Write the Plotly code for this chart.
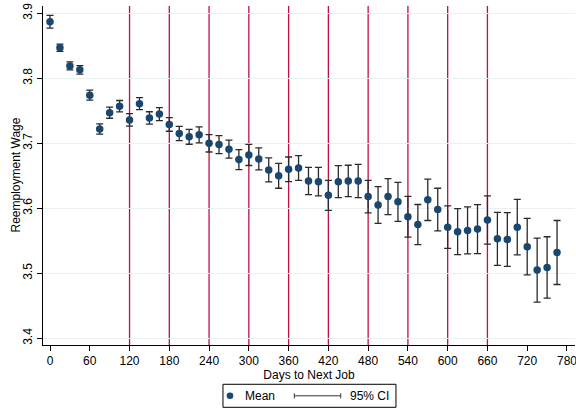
import plotly.graph_objects as go

days = list(range(0, 766, 15))
mean_wage = [3.887, 3.847, 3.819, 3.813, 3.774, 3.722, 3.747, 3.757, 3.736, 3.761,
             3.739, 3.745, 3.729, 3.715, 3.710, 3.713, 3.700, 3.698, 3.691, 3.675,
             3.682, 3.676, 3.659, 3.650, 3.660, 3.662, 3.642, 3.641, 3.620, 3.641,
             3.642, 3.642, 3.618, 3.605, 3.618, 3.610, 3.587, 3.575, 3.613, 3.598,
             3.571, 3.564, 3.566, 3.568, 3.582, 3.553, 3.552, 3.571, 3.541, 3.505,
             3.509, 3.532]
ci_half = [0.0097, 0.0057, 0.0062, 0.0066, 0.0077, 0.0080, 0.0085, 0.0088, 0.0097, 0.0092,
           0.0095, 0.0100, 0.0105, 0.0110, 0.0115, 0.0123, 0.0134, 0.0138, 0.0138, 0.0154,
           0.0162, 0.0169, 0.0185, 0.0192, 0.0189, 0.0189, 0.0211, 0.0220, 0.0231, 0.0246,
           0.0242, 0.0257, 0.0251, 0.0282, 0.0277, 0.0300, 0.0312, 0.0308, 0.0318, 0.0328,
           0.0326, 0.0354, 0.0362, 0.0377, 0.0372, 0.0408, 0.0412, 0.0428, 0.0435, 0.0492,
           0.0472, 0.0492]
vlines = [120, 180, 240, 300, 360, 420, 480, 540, 600, 660]
x_ticks = list(range(0, 781, 60))
y_ticks = [3.4, 3.5, 3.6, 3.7, 3.8, 3.9]

navy = "#1a476f"
vcolor = "#c0103f"
font = "Liberation Sans, Arial, sans-serif"

fig = go.Figure()
fig.add_trace(go.Scatter(
    x=days, y=mean_wage, mode="markers", name="Mean",
    marker=dict(color=navy, size=7.5, line=dict(width=0)),
    error_y=dict(type="data", array=ci_half, symmetric=True,
                 color="#2a2a2a", thickness=1.3, width=3.5),
    showlegend=False,
))

shapes = []
for v in vlines:
    shapes.append(dict(type="line", xref="x", yref="paper", x0=v, x1=v, y0=0, y1=1,
                       line=dict(color=vcolor, width=1.3), layer="below"))

# manual legend (box, marker symbol, capped line)
ly = -0.1499
shapes.append(dict(type="rect", xref="paper", yref="paper", x0=0.3383, x1=0.6635,
                   y0=-0.1838, y1=-0.1159,
                   line=dict(color="#000000", width=1), fillcolor="white"))
shapes.append(dict(type="line", xref="paper", yref="paper", x0=0.4724, x1=0.5596,
                   y0=ly, y1=ly, line=dict(color="#333333", width=1)))
for cx in (0.4724, 0.5596):
    shapes.append(dict(type="line", xref="paper", yref="paper", x0=cx, x1=cx,
                       y0=ly + 0.0075, y1=ly - 0.0075, line=dict(color="#333333", width=1)))
shapes.append(dict(type="circle", xref="paper", yref="paper",
                   x0=0.3515 - 0.0062, x1=0.3515 + 0.0062, y0=ly + 0.0097, y1=ly - 0.0097,
                   fillcolor=navy, line=dict(width=0)))

annotations = [
    dict(xref="paper", yref="paper", x=0.3750, y=ly, text="Mean", showarrow=False,
         xanchor="left", yanchor="middle", font=dict(family=font, size=12, color="#000")),
    dict(xref="paper", yref="paper", x=0.5740, y=ly, text="95% CI", showarrow=False,
         xanchor="left", yanchor="middle", font=dict(family=font, size=12, color="#000")),
    dict(xref="paper", yref="paper", x=-0.0526, y=0.5, text="Reemployment Wage",
         showarrow=False, textangle=-90, xanchor="center", yanchor="middle",
         font=dict(family=font, size=12, color="#000")),
]

fig.update_layout(
    width=576, height=411,
    margin=dict(l=43, r=1, t=6, b=66),
    paper_bgcolor="white", plot_bgcolor="white",
    font=dict(family=font, size=12, color="#000"),
    shapes=shapes, annotations=annotations,
    xaxis=dict(range=[-10.56, 792.1], tickvals=x_ticks, ticktext=[str(t) for t in x_ticks],
               ticks="outside", ticklen=5, tickcolor="#000", showgrid=False, zeroline=False,
               showline=True, linecolor="#000", linewidth=1, ticklabeloverflow="allow",
               automargin=False,
               title=dict(text="Days to Next Job", standoff=0, font=dict(size=12)),
               tickfont=dict(size=12)),
    yaxis=dict(range=[3.3897, 3.9112], tickvals=y_ticks, ticktext=[str(t) for t in y_ticks],
               ticks="outside", ticklen=5, tickcolor="#000", tickangle=-90,
               showgrid=True, gridcolor="#e8f0f0", gridwidth=1, zeroline=False,
               showline=True, linecolor="#000", linewidth=1, automargin=False,
               tickfont=dict(size=12)),
)

fig.write_html("out.html")
